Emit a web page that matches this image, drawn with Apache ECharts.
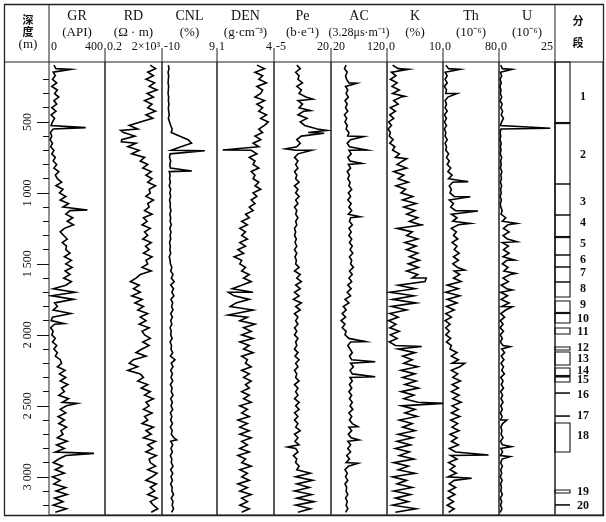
<!DOCTYPE html>
<html><head><meta charset="utf-8">
<script src="https://cdn.jsdelivr.net/npm/echarts@6/dist/echarts.min.js"></script>
<style>html,body{margin:0;padding:0;background:#fff}#c{width:606px;height:522px}</style>
</head><body><div id="c"></div>
<script>
// ---------- data ----------
const depthStart = 100, depthStep = 25;           // sample depths (m)
const trackNames = ['GR','RD','CNL','DEN','Pe','AC','K','Th','U'];
const trackUnits = ['(API)','(Ω · m)','(%)','(g·cm⁻³)','(b·e⁻¹)','(3.28μs·m⁻¹)','(%)','(10⁻⁶)','(10⁻⁶)'];
const scaleMin = [0, 0.2, -10, 1, -5, 20, 0, 0, 0];
const scaleMax = [400, 2000, 9, 4, 20, 120, 10, 80, 25];
const scaleMinText = ['0','0.2','-10','1','-5','20','0','0','0'];
const scaleMaxText = ['400','2×10³','9','4','20','120','10','80','25'];
const depthMajorTicks = [500,1000,1500,2000,2500,3000];
const depthMinorTicks = [200,300,400,600,700,800,900,1100,1200,1300,1400,1600,1700,1800,1900,2100,2200,2300,2400,2600,2700,2800,2900,3100,3200];

const GR = [35,50,30,45, 25,55,20,60, 40,70,35,55, 20,50,15,40, 25,15,30,10, 20,8,25,12, 35,20,45,30, 55,35,70,45,
 60,90,50,100, 75,120,80,140, 100,150,120,170, 130,175,110,80, 105,130,95,125, 120,150,110,160, 120,165,115,150,
 105,160,120,30, 185,20,175,40, 60,30,155,25, 15,40,12,30, 20,45,25,55, 35,60,45,80, 90,60,115,75, 120,80,135,90,
 110,70,140,95, 125,80,120,65, 110,70,125,85, 100,60,130,55, 110,45,120,70, 30,95,45,110, 25,80,35,120, 50,130,40,100, 30,125,45];
const GR_spikes = [[130,155],[540,262],[1120,274],[1920,107],[2483,202],[2835,321]];

const RD = [300,700,200,500, 150,600,250,900, 180,500,120,400, 200,700,150,450, 60,10,40,4, 25,3,30,8, 50,15,120,60,
 200,90,350,150, 400,200,700,250, 300,150,500,200, 250,120,400,100, 180,80,300,120, 200,90,350,140, 250,100,400,150,
 200,80,350,60, 30,12,50,20, 60,15,80,25, 100,40,200,60, 150,50,250,80, 120,300,90,250, 80,30,150,20, 10,40,8,60,
 100,40,200,70, 300,120,500,150, 250,100,400,120, 200,80,500,150, 350,100,700,200, 450,150,800,250, 300,700,200,900,
 400,150,800,300, 600,200,900,300, 500,1000,350];
const RD_spikes = [[560,2.5],[640,2.8]];

const CNL = [-7.8,-7.6,-7.9,-7.7, -7.8,-7.9,-7.7,-7.8, -7.9,-7.7,-7.8,-7.6, -7.8,-7.7,-7.5,-7.8, -7.4,-7.0,-6.5,-6.8,
 -4.0,-1.0,0.2,-3.5, -6.8,-7.2,-7.4,-7.0, -7.3,-7.1,-7.5,-7.2, -7.4,-7.1,-7.5,-7.0, -7.3,-7.0,-7.4,-7.1, -7.2,-6.9,-7.3,-7.0,
 -7.2,-6.8,-7.3,-6.9, -7.2,-7.0,-7.4,-7.1, -7.3,-7.0,-7.5,-7.2, -7.1,-6.6,-7.0,-6.2, -6.8,-5.8,-7.0,-6.0, -6.6,-5.9,-6.9,-6.3,
 -6.7,-6.2,-7.0,-6.4, -7.0,-6.6,-7.2,-6.8, -7.0,-6.5,-7.2,-6.7, -6.9,-6.3,-7.1,-5.5, -6.8,-6.2,-7.0,-6.4, -6.9,-6.3,-7.1,-6.5,
 -6.8,-6.2,-7.0,-6.4, -6.9,-6.3,-7.1,-6.6, -7.0,-6.4,-7.1,-6.5, -6.8,-5.9,-7.0,-6.3, -6.9,-6.4,-7.1,-6.6, -6.8,-6.2,-7.0,-6.3,
 -6.9,-6.4,-7.0,-6.5, -6.6,-6.0,-6.8,-6.2, -6.5,-6.0,-6.7];
const CNL_spikes = [[703,4.8],[846,0.3],[2189,-4.9],[2740,-4.9]];

const DEN = [3.1,3.5,3.0,3.4, 3.2,3.6,3.1,3.4, 3.3,3.0,3.5,3.1, 3.4,3.2,3.6,3.3, 3.7,3.5,3.2,3.4, 3.0,3.3,2.9,3.2,
 2.8,3.1,2.7,3.0, 2.9,3.2,2.8,3.0, 2.9,3.2,3.0,3.3, 2.9,3.1,2.8,3.0, 2.7,2.9,2.5,2.7, 2.3,2.6,2.2,2.5, 2.3,2.6,2.2,2.5,
 2.1,2.4,1.9,2.3, 2.2,2.5,2.3,2.7, 2.4,2.8,2.3,1.8, 2.9,1.9,2.7,2.0, 1.7,2.9,2.0,2.6, 2.2,3.0,2.4,2.8, 2.3,2.9,2.2,2.7,
 2.4,2.9,2.3,2.6, 2.5,2.8,2.3,2.7, 2.4,2.8,2.5,2.7, 2.3,2.7,2.4,2.8, 2.2,2.6,2.3,2.7, 2.1,2.6,2.2,2.7, 2.2,2.8,2.3,2.6,
 2.2,2.7,2.1,2.5, 2.3,2.8,2.2,2.6, 2.3,2.7,2.1,2.6, 2.2,2.8,2.3,2.6, 2.2,2.7,2.3];
const DEN_spikes = [[698,1.3],[1700,1.6],[1860,1.6]];

const PE = [5.0,6.5,4.5,6.0, 5.5,7.5,5.0,7.0, 6.0,9.0,5.5,7.5, 6.0,8.0,5.5,9.5, 6.5,8.5,14,10, 7.0,5.0,6.5,5.0,
 4.5,5.5,4.0,5.5, 4.5,5.5,4.0,5.0, 4.5,6.0,4.0,5.5, 4.5,6.0,4.5,5.5, 4.0,5.0,4.5,5.5, 4.5,5.0,4.0,4.5, 4.0,4.8,4.2,5.0,
 4.0,5.0,4.2,4.8, 4.5,6.0,4.0,6.5, 5.0,7.0,4.5,6.5, 4.0,6.0,3.5,7.0, 4.5,6.5,4.0,5.5, 4.5,5.5,4.0,5.0, 4.0,5.5,4.5,5.0,
 4.0,5.5,4.2,6.0, 4.5,5.5,4.0,5.0, 4.5,6.0,4.0,5.5, 4.5,5.5,4.0,6.0, 4.5,6.0,4.0,5.5, 4.0,5.5,4.5,6.5, 4.0,5.5,4.2,6.0,
 4.5,5.5,3.5,5.0, 4.5,6.0,5.0,11, 4.5,12,5.0,10.5, 4.0,11.5,5.0,12.5, 4.5,11,5.5];
const PE_spikes = [[340,12],[420,11],[560,18.2],[580,17],[690,0],[700,11.5],[2790,1.0]];

const AC = [47,44,49,46, 48,52,46,50, 47,51,45,49, 46,50,44,48, 45,49,47,52, 50,55,49,53, 52,56,50,54, 51,55,49,53,
 50,54,52,57, 51,55,50,56, 52,57,51,55, 53,58,52,56, 52,57,53,58, 54,59,53,57, 55,60,53,58, 52,57,50,56, 49,55,45,52,
 42,47,40,46, 38,45,40,47, 45,52,55,50, 54,58,53,57, 55,60,54,58, 54,58,53,57, 52,57,53,58, 54,59,52,57, 53,58,52,57,
 51,56,50,55, 50,55,48,53, 47,51,45,49, 46,50,45,48, 47,50,46,49, 47,50,46];
const AC_spikes = [[228,66],[604,78],[698,84],[792,75],[1168,72],[2048,81],[2189,99],[2295,99],[2647,68],[2740,70],[2905,68]];

const K = [1.0,2.0,0.8,1.6, 0.6,1.8,0.9,2.2, 1.0,2.5,1.2,2.0, 0.6,1.5,0.5,1.2, 0.3,0.8,0.2,0.6, 0.4,1.1,0.5,1.4,
 1.0,2.2,1.5,2.8, 1.8,3.5,1.2,3.0, 2.0,3.8,1.6,3.3, 2.5,4.6,2.8,5.2, 3.0,5.0,3.5,5.5, 4.0,6.0,1.8,4.5, 3.5,5.5,3.2,5.2,
 3.5,5.5,4.0,5.8, 3.8,5.6,3.5,5.5, 4.5,6.8,2.0,5.0, 0.5,4.8,1.0,5.2, 0.8,3.5,0.5,2.0, 0.3,1.6,0.5,2.2, 0.6,1.8,0.4,1.5,
 2.0,5.0,2.8,4.5, 3.0,5.5,2.5,5.0, 2.8,5.2,3.2,5.6, 2.5,4.8,3.0,5.5, 2.6,5.0,3.2,5.4, 2.2,4.5,2.8,5.0, 2.0,4.6,1.8,4.2,
 1.5,4.0,2.2,4.8, 1.2,3.8,2.0,5.0, 1.0,3.5,1.8,4.5, 1.2,4.2,1.5,3.8, 1.0,5.2,1.5];
const K_spikes = [[130,3.8],[320,3.2],[760,3.5],[1225,6.5],[1600,7.0],[2082,6.2],[2483,10]];

const TH = [4,8,3,6, 3,6,2,5, 4,7,3,5, 3,6,2,5, 2,5,2,4, 3,6,3,5, 4,8,5,9, 6,11,7,13, 8,14,9,12, 10,16,9,15,
 11,18,12,20, 14,22,12,19, 15,21,13,20, 16,23,15,22, 14,21,16,24, 15,26,6,22, 4,24,6,20, 5,16,4,12, 3,10,4,9,
 4,11,5,12, 10,20,12,22, 13,24,12,21, 14,25,13,22, 12,23,14,26, 13,22,12,24, 11,21,13,23, 10,20,12,22, 9,18,11,20,
 8,17,10,19, 7,16,9,18, 8,17,7,15, 6,16,8];
const TH_spikes = [[130,24],[300,20],[921,36],[1027,39],[1128,50],[1215,39],[1543,31],[2200,31],[2846,65],[3010,41]];

const U = [0.8,1.5,0.6,1.2, 0.5,1.0,0.4,0.9, 0.6,1.2,0.5,1.4, 0.8,1.6,1.0,2.0, 1.2,0.6,0.9,0.5, 0.8,0.4,1.0,0.6,
 0.9,0.5,1.2,0.7, 1.0,0.6,1.3,0.8, 1.1,0.6,1.2,0.7, 1.0,0.5,1.1,0.6, 0.8,1.4,0.9,3.0, 1.5,4.0,2.0,4.5, 1.8,3.8,1.5,4.2,
 2.0,4.5,1.8,3.5, 1.5,4.0,2.2,5.0, 1.8,4.2,1.0,3.5, 0.8,3.8,1.0,4.5, 1.2,3.0,0.8,2.5, 0.6,1.8,0.5,2.0, 0.5,1.5,0.6,1.8,
 1.2,2.5,1.0,2.2, 0.9,2.0,1.2,2.4, 0.8,1.8,1.0,2.0, 0.7,1.6,0.9,1.8, 0.8,1.5,0.6,1.4, 0.7,1.6,0.8,1.3, 0.9,1.8,0.7,1.5,
 0.8,1.6,0.6,1.4, 0.7,1.5,0.8,1.2, 0.6,1.4,0.7,1.1, 0.8,1.5,0.6,1.2, 0.7,1.3,0.5];
const U_spikes = [[130,5.8],[545,22.9],[1215,8],[1344,8],[1473,7],[1567,7.5],[1684,6],[1802,6],[2083,5],[2600,3.5],[2788,5.5],[2858,5]];

// segmentation column (depths in m)
const segBoxes = [[78,508],[508,937],[937,1156],[1156,1311],[1311,1437],[1437,1522],[1522,1628],[1628,1733],[1762,1846],
 [1846,1916],[1952,1994],[2086,2107],[2121,2212],[2234,2290],[2297,2332],[2621,2825],[3093,3114]];
const segTicks = [2410,2572,3198];
const segThick = [508,1311,1846,2290];
const segLabels = ['1','2','3','4','5','6','7','8','9','10','11','12','13','14','15','16','17','18','19','20'];
const segLabelDepths = [325,733,1064,1212,1360,1473,1564,1677,1790,1888,1980,2093,2170,2255,2318,2424,2572,2712,3107,3206];

// ---------- layout / style ----------
const trackValues = [GR, RD, CNL, DEN, PE, AC, K, TH, U];
const trackSpikes = [GR_spikes, RD_spikes, CNL_spikes, DEN_spikes, PE_spikes, AC_spikes, K_spikes, TH_spikes, U_spikes];
const edges = [49,105,162,217,274,331,387,443,499,555,603];
const gridTop = 62, gridH = 453;
const depthMin = 78, depthMax = 3269;
const serif = '"Liberation Serif","Times New Roman",serif';
const ink = '#111';

function buildData(vals, spikes) {
  const pts = vals.map((v, i) => [v, depthStart + i * depthStep]);
  spikes.forEach(s => pts.push([s[1], s[0]]));
  pts.sort((a, b) => a[1] - b[1]);
  return pts;
}
function fmtDepth(v) {
  const s = String(Math.round(v));
  return s.length > 3 ? s.slice(0, s.length - 3) + ' ' + s.slice(-3) : s;
}

const grids = [], xAxes = [], yAxes = [], series = [];
for (let i = 0; i < 10; i++) {
  grids.push({ left: edges[i], top: gridTop, width: edges[i + 1] - edges[i], height: gridH,
    show: true, borderColor: '#222', borderWidth: 1, containLabel: false, outerBoundsMode: 'none' });
}
for (let i = 0; i < 9; i++) {
  const mn = scaleMin[i], mx = scaleMax[i];
  xAxes.push({
    gridIndex: i, type: i === 1 ? 'log' : 'value', logBase: 10, min: mn, max: mx, position: 'top',
    axisLine: { show: false }, axisTick: { show: false }, splitLine: { show: false },
    axisLabel: {
      show: true, customValues: [mn, mx], margin: 9, fontFamily: serif, fontSize: 12, color: ink,
      padding: [0, 2, 0, 2], alignMinLabel: 'left', alignMaxLabel: 'right',
      formatter: v => (i === 1 ? (v < 10 ? scaleMinText[i] : scaleMaxText[i]) : (v <= (mn + mx) / 2 ? scaleMinText[i] : scaleMaxText[i]))
    }
  });
  yAxes.push(i === 0 ? {
    gridIndex: 0, type: 'value', inverse: true, min: depthMin, max: depthMax, position: 'left',
    axisLine: { show: false }, splitLine: { show: false },
    axisTick: { show: true, length: 12, customValues: depthMajorTicks, lineStyle: { color: ink, width: 1 } },
    axisLabel: { show: true, customValues: depthMajorTicks, rotate: 90, margin: 15, fontFamily: serif, fontSize: 12, color: ink, formatter: fmtDepth }
  } : { gridIndex: i, type: 'value', inverse: true, min: depthMin, max: depthMax, show: false });
  series.push({
    type: 'line', xAxisIndex: i, yAxisIndex: i, data: buildData(trackValues[i], trackSpikes[i]),
    showSymbol: false, symbol: 'none', lineStyle: { color: '#000', width: 1.6, join: 'miter' }, animation: false, silent: true, clip: true
  });
}
// segmentation grid axes
xAxes.push({ gridIndex: 9, type: 'value', min: 0, max: 48, show: false });
yAxes.push({ gridIndex: 9, type: 'value', inverse: true, min: depthMin, max: depthMax, show: false });
// minor depth ticks
yAxes.push({
  gridIndex: 0, type: 'value', inverse: true, min: depthMin, max: depthMax, position: 'left',
  axisLine: { show: false }, splitLine: { show: false }, axisLabel: { show: false },
  axisTick: { show: true, length: 6, customValues: depthMinorTicks, lineStyle: { color: ink, width: 1 } }
});

const segBarW = 15, segLabelX = 28;
const segData = [];
segBoxes.forEach(b => segData.push([b[0], b[1], 0, 1.1]));
segTicks.forEach(d => segData.push([d, d, 1, 1.6]));
segThick.forEach(d => segData.push([d, d, 1, 2.2]));
series.push({
  type: 'custom', xAxisIndex: 9, yAxisIndex: 9, data: segData, animation: false, silent: true,
  encode: { x: 2, y: [0, 1] },
  renderItem: (params, api) => {
    const a = api.value(0), b = api.value(1), kind = api.value(2), w = api.value(3);
    const p1 = api.coord([0, a]), p2 = api.coord([segBarW, b]);
    if (kind === 0) {
      return { type: 'rect', shape: { x: p1[0], y: p1[1], width: p2[0] - p1[0], height: p2[1] - p1[1] },
        style: { fill: 'none', stroke: ink, lineWidth: w } };
    }
    return { type: 'line', shape: { x1: p1[0], y1: p1[1], x2: p2[0], y2: p1[1] }, style: { stroke: ink, lineWidth: w } };
  }
});
series.push({
  type: 'custom', xAxisIndex: 9, yAxisIndex: 9, animation: false, silent: true,
  data: segLabelDepths.map((d, i) => [d, i]), encode: { x: 1, y: 0 },
  renderItem: (params, api) => {
    const p = api.coord([segLabelX, api.value(0)]);
    return { type: 'text', style: { text: segLabels[api.value(1)], x: p[0], y: p[1], align: 'center', verticalAlign: 'middle',
      textAlign: 'center', textVerticalAlign: 'middle', font: 'bold 12px ' + serif, fill: ink } };
  }
});

// ---------- header / frame graphics ----------
function txt(t, x, y, font) {
  return { type: 'text', silent: true, style: { text: t, x: x, y: y, align: 'center', verticalAlign: 'middle',
    textAlign: 'center', textVerticalAlign: 'middle', font: font, fill: ink } };
}
function ln(x1, y1, x2, y2, w) {
  return { type: 'line', silent: true, shape: { x1, y1, x2, y2 }, style: { stroke: '#222', lineWidth: w || 1 } };
}
const graphics = [];
graphics.push({ type: 'rect', silent: true, shape: { x: 4.5, y: 4.5, width: 599, height: 511 }, style: { fill: 'none', stroke: '#222', lineWidth: 1.3 } });
graphics.push(ln(4.5, 62, 49, 62));
graphics.push(ln(49, 4.5, 49, 62));
graphics.push(ln(555, 4.5, 555, 62));
for (let i = 1; i < 9; i++) graphics.push(ln(edges[i], 48, edges[i], 62));
for (let i = 0; i < 9; i++) {
  const cx = (edges[i] + edges[i + 1]) / 2;
  graphics.push(txt(trackNames[i], cx, 16, '14px ' + serif));
  graphics.push(txt(trackUnits[i], cx, 33, (trackUnits[i].length > 8 ? '12px ' : '13px ') + serif));
}
const cjk = '"Noto Sans CJK SC",sans-serif';
graphics.push(txt('深', 28, 20, 'bold 11px ' + cjk));
graphics.push(txt('度', 28, 32, 'bold 11px ' + cjk));
graphics.push(txt('(m)', 28, 45, '13px ' + serif));
graphics.push(txt('分', 578, 21, 'bold 11px ' + cjk));
graphics.push(txt('段', 578, 43, 'bold 11px ' + cjk));

const chart = echarts.init(document.getElementById('c'), null, { renderer: 'canvas', width: 606, height: 522 });
chart.setOption({
  animation: false, backgroundColor: '#fff',
  grid: grids, xAxis: xAxes, yAxis: yAxes, series: series, graphic: graphics
});
</script></body></html>
